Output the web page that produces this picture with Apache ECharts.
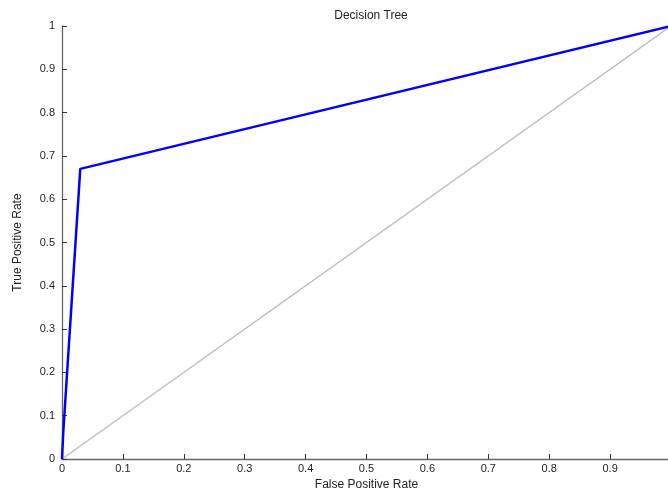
<!DOCTYPE html>
<html><head><meta charset="utf-8">
<script src="https://cdn.jsdelivr.net/npm/echarts@6/dist/echarts.min.js"></script>
<style>html,body{margin:0;padding:0;background:#fff}#c{width:668px;height:490px}</style>
</head><body><div id="c"></div>
<script>
var rocX = [0, 0.002, 0.03, 1];
var rocY = [0, 0.06, 0.67, 1];
var diagX = [0, 1];
var diagY = [0, 1];
var xTicks = [0, 0.1, 0.2, 0.3, 0.4, 0.5, 0.6, 0.7, 0.8, 0.9];
var yTicks = [0, 0.1, 0.2, 0.3, 0.4, 0.5, 0.6, 0.7, 0.8, 0.9, 1];

function pairs(xs, ys){ return xs.map(function(x,i){return [x, ys[i]];}); }
var F = 'Liberation Sans, Arial, sans-serif';
var chart = echarts.init(document.getElementById('c'), null, {renderer:'canvas'});
chart.setOption({
  animation:false,
  title:{text:'Decision Tree', left:366, top:5, textAlign:'center',
    textStyle:{fontFamily:F, fontSize:12, fontWeight:'normal', color:'#222'}},
  grid:{left:62, top:26, width:609, height:433, containLabel:false, outerBoundsMode:'none'},
  xAxis:{type:'value', min:0, max:1, interval:0.1,
    name:'False Positive Rate', nameLocation:'middle', nameGap:17,
    nameTextStyle:{fontFamily:F, fontSize:12, color:'#222'},
    axisLine:{show:true, onZero:false, lineStyle:{color:'#666', width:1.3}},
    axisTick:{show:true, inside:true, length:5, lineStyle:{color:'#333'}},
    axisLabel:{fontFamily:F, fontSize:11, color:'#222', margin:4,
      formatter:function(v){ return xTicks.indexOf(Math.round(v*10)/10)>=0 ? String(Math.round(v*10)/10) : ''; }},
    splitLine:{show:false}},
  yAxis:{type:'value', min:0, max:1, interval:0.1,
    name:'True Positive Rate', nameLocation:'middle', nameGap:38, nameRotate:90,
    nameTextStyle:{fontFamily:F, fontSize:12, color:'#222'},
    axisLine:{show:true, onZero:false, lineStyle:{color:'#666', width:1.3}},
    axisTick:{show:true, inside:true, length:5, lineStyle:{color:'#333'}},
    axisLabel:{fontFamily:F, fontSize:11, color:'#222', margin:7,
      formatter:function(v){ return String(Math.round(v*10)/10); }},
    splitLine:{show:false}},
  series:[
    {type:'line', data:pairs(diagX, diagY), symbol:'none', lineStyle:{color:'#bdbdbd', width:1.5}},
    {type:'line', data:pairs(rocX, rocY), symbol:'none', lineStyle:{color:'#0000ff', width:2.5}}
  ]
});
</script></body></html>
